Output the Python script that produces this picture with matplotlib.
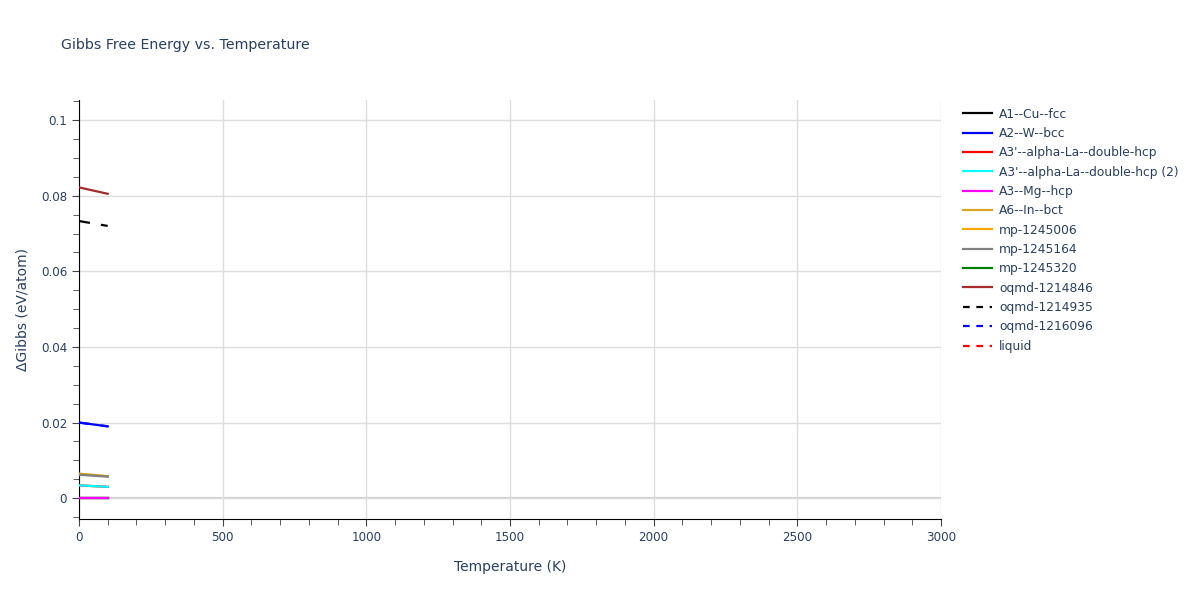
import matplotlib.pyplot as plt
from matplotlib.ticker import MultipleLocator
from matplotlib.lines import Line2D

# temperature points (K) and delta G values (eV/atom)
temps = [0, 100]

names = ["A1--Cu--fcc", "A2--W--bcc", "A3'--alpha-La--double-hcp",
         "A3'--alpha-La--double-hcp (2)", "A3--Mg--hcp", "A6--In--bct",
         "mp-1245006", "mp-1245164", "mp-1245320", "oqmd-1214846",
         "oqmd-1214935", "oqmd-1216096", "liquid"]
colors = ["black", "blue", "red", "cyan", "magenta", "goldenrod", "orange",
          "gray", "green", "brown", "black", "blue", "red"]
dashed = [False] * 10 + [True, True, True]

g_a1 = [0.0, 0.0]
g_a2 = [0.0200, 0.0190]
g_a3p = [0.0034, 0.0030]
g_a3p2 = [0.0034, 0.0030]
g_a3 = [0.0, 0.0]
g_a6 = [0.0065, 0.0058]
g_mp006 = [0.0064, 0.0058]
g_mp164 = [0.0062, 0.0057]
g_mp320 = [0.0, 0.0]
g_oq846 = [0.0822, 0.0805]
g_oq935 = [0.0733, 0.0720]
g_oq096 = [0.0200, 0.0190]
g_liquid = []

# draw order so the visible ones sit on top
series = [g_a1, g_mp320, g_oq096, g_a2, g_a3p, g_a3p2, g_a3, g_mp006,
          g_a6, g_mp164, g_oq846, g_oq935, g_liquid]
order = [0, 8, 11, 1, 2, 3, 4, 6, 5, 7, 9, 10, 12]

txt = "#2a3f5f"
fig = plt.figure(figsize=(12, 6), dpi=100)
ax = fig.add_axes([0.0658, 0.135, 0.7184, 0.6983])

ax.axhline(0, color="#cccccc", lw=1.5, zorder=1)
for vals, i in zip(series, order):
    if not vals:
        continue
    ax.plot(temps[:len(vals)], vals, color=colors[i], lw=1.6,
            ls=(0, (5, 5)) if dashed[i] else "-", zorder=3)

ax.set_xlim(0, 3000)
ax.set_ylim(-0.0055, 0.1053)
ax.xaxis.set_major_locator(MultipleLocator(500))
ax.xaxis.set_minor_locator(MultipleLocator(100))
ax.yaxis.set_major_locator(MultipleLocator(0.02))
ax.yaxis.set_minor_locator(MultipleLocator(0.005))
ax.yaxis.set_major_formatter(lambda v, p: "0" if abs(v) < 1e-9 else f"{v:g}")
ax.grid(True, which="major", color="#dddddd", lw=1, zorder=0)
ax.tick_params(which="major", length=5, color="#444444", labelcolor=txt, labelsize=8.6)
ax.tick_params(which="minor", length=4, color="#444444")
for s in ["top", "right"]:
    ax.spines[s].set_visible(False)
for s in ["left", "bottom"]:
    ax.spines[s].set_color("black")

ax.set_xlabel("Temperature (K)", color=txt, fontsize=10, labelpad=12)
ax.set_ylabel("ΔGibbs (eV/atom)", color=txt, fontsize=10, labelpad=8)
fig.text(0.051, 0.925, "Gibbs Free Energy vs. Temperature", color=txt,
         fontsize=10.2, va="center")

handles = [Line2D([], [], color=c, lw=1.6, ls=(0, (3, 3)) if d else "-")
           for c, d in zip(colors, dashed)]
fig.legend(handles, names, loc="upper left", bbox_to_anchor=(0.797, 0.831),
           frameon=False, fontsize=8.8, labelcolor=txt, handlelength=2.4,
           labelspacing=0.52, borderpad=0, handletextpad=0.6)

fig.savefig("out.png", dpi=100, facecolor="white")
